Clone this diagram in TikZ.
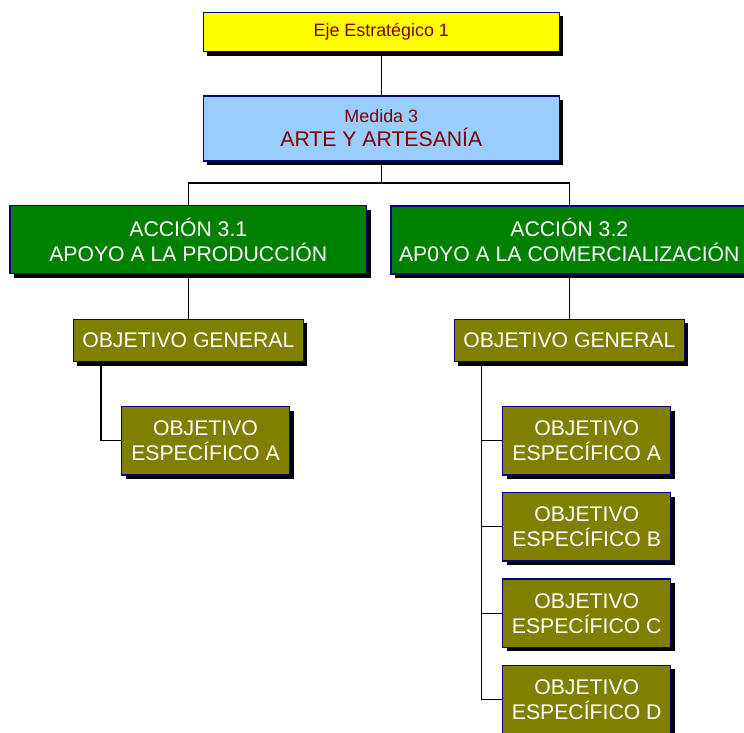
\documentclass[tikz,border=0pt]{standalone}
\usepackage{fontspec}
\setmainfont{Liberation Sans}
\usetikzlibrary{shadows}
\definecolor{boxyellow}{HTML}{FFFF00}
\definecolor{boxblue}{HTML}{99CCFF}
\definecolor{boxgreen}{HTML}{008000}
\definecolor{boxolive}{HTML}{808000}
\definecolor{boxborder}{HTML}{000080}
\definecolor{darkred}{HTML}{800000}
\tikzset{
  base/.style={draw=boxborder, line width=1.4pt, rectangle, inner sep=0pt, align=center,
    general shadow={fill=black, shadow xshift=4pt, shadow yshift=-4pt},
    font=\fontsize{21.2}{25}\selectfont},
  ejebox/.style={base, fill=boxyellow, text=darkred, minimum width=356pt, minimum height=39.4pt,
    font=\fontsize{17.9}{21}\selectfont},
  medbox/.style={base, fill=boxblue, text=darkred, minimum width=356pt, minimum height=65pt},
  accbox/.style={base, fill=boxgreen, text=white, minimum width=356.7pt, minimum height=68pt},
  ogbox/.style={base, fill=boxolive, text=white, minimum width=230pt, minimum height=42.4pt},
  osbox/.style={base, fill=boxolive, text=white, minimum width=168pt, minimum height=68.3pt},
  link/.style={draw=black, line width=1.2pt},
}
\begin{document}
\begin{tikzpicture}[x=1pt,y=-1pt]
\useasboundingbox (0,0) rectangle (744,733);
\node[ejebox] (eje) at (381.3,32) {Eje Estratégico 1};
\node[medbox] (med) at (381.3,128.5) {{\fontsize{17.9}{21}\selectfont Medida 3}\\[-1pt]ARTE Y ARTESANÍA};
\node[accbox] (acc1) at (188.3,239.6) {ACCIÓN 3.1\\APOYO A LA PRODUCCIÓN};
\node[accbox] (acc2) at (569.3,239.8) {ACCIÓN 3.2\\AP0YO A LA COMERCIALIZACIÓN};
\node[ogbox] (og1) at (188.3,340.5) {OBJETIVO GENERAL};
\node[ogbox] (og2) at (569.3,340.5) {OBJETIVO GENERAL};
\node[osbox] (osa1) at (205.5,440.8) {OBJETIVO\\ESPECÍFICO A};
\node[osbox] (osa) at (586.7,440.8) {OBJETIVO\\ESPECÍFICO A};
\node[osbox] (osb) at (586.7,526.8) {OBJETIVO\\ESPECÍFICO B};
\node[osbox] (osc) at (586.7,613.2) {OBJETIVO\\ESPECÍFICO C};
\node[osbox] (osd) at (586.7,699.5) {OBJETIVO\\ESPECÍFICO D};
\coordinate (split) at (381.3,183);
\draw[link] (eje.south) -- (med.north);
\draw[link] (med.south) -- (split);
\draw[link] (acc1.north) |- (split) -| (acc2.north);
\draw[link] (acc1.south) -- (og1.north);
\draw[link] (acc2.south) -- (og2.north);
\coordinate (t1) at (101,0);
\coordinate (t2) at (481.7,0);
\draw[link] (og1.south -| t1) |- (osa1.west);
\draw[link] (og2.south -| t2) |- (osd.west);
\draw[link] (osa.west) -- (osa.west -| t2);
\draw[link] (osb.west) -- (osb.west -| t2);
\draw[link] (osc.west) -- (osc.west -| t2);
\end{tikzpicture}
\end{document}
